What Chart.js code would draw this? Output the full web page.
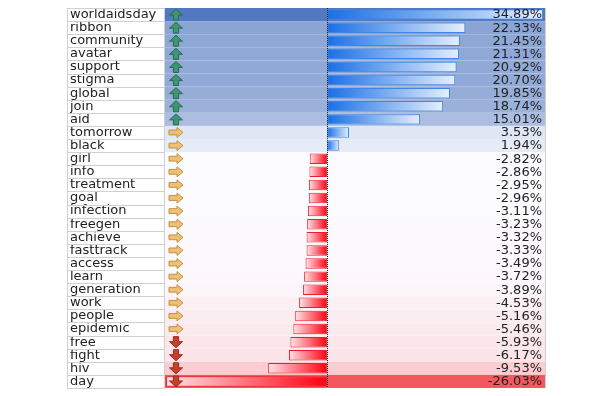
<!DOCTYPE html>
<html>
<head>
<meta charset="utf-8">
<script src="https://cdn.jsdelivr.net/npm/chart.js@4/dist/chart.umd.min.js"></script>
<style>
  html, body { margin: 0; padding: 0; background: #fff; }
  canvas { display: block; }
</style>
</head>
<body>
<canvas id="hashtagChart" width="613" height="396"></canvas>
<script>
// hashtag words and their change in share
const words = ["worldaidsday", "ribbon", "community", "avatar", "support", "stigma", "global", "join", "aid",
    "tomorrow", "black", "girl", "info", "treatment", "goal", "infection", "freegen", "achieve", "fasttrack",
    "access", "learn", "generation", "work", "people", "epidemic", "free", "fight", "hiv", "day"];
const changes = [34.89, 22.33, 21.45, 21.31, 20.92, 20.70, 19.85, 18.74, 15.01,
    3.53, 1.94, -2.82, -2.86, -2.95, -2.96, -3.11, -3.23, -3.32, -3.33,
    -3.49, -3.72, -3.89, -4.53, -5.16, -5.46, -5.93, -6.17, -9.53, -26.03];
const axisMin = -26.2;
const axisMax = 35.2;

const FONT = "13px 'DejaVu Sans'";
const LABEL_COL = 98; // width of the word column

// 3 colour scale (red - white - blue), midpoint at the median like Excel
const sorted = [...changes].sort((a, b) => a - b);
const vMin = sorted[0], vMax = sorted[sorted.length - 1], vMid = sorted[Math.floor(sorted.length / 2)];
const cRed = [244, 88, 95], cWhite = [252, 252, 255], cBlue = [82, 121, 191];

function mix(a, b, t) {
    return "rgb(" + a.map((c, i) => Math.round(c + (b[i] - c) * t)).join(",") + ")";
}
function rowColor(v) {
    if (v >= vMid) return mix(cWhite, cBlue, (v - vMid) / (vMax - vMid));
    return mix(cWhite, cRed, (vMid - v) / (vMid - vMin));
}
// icon set: thirds of the value range
function iconFor(v) {
    const t = (v - vMin) / (vMax - vMin);
    if (t >= 2 / 3) return "up";
    if (t >= 1 / 3) return "right";
    return "down";
}

function rowHeight(chart) {
    const a = chart.chartArea;
    return (a.bottom - a.top) / words.length;
}

function drawArrow(ctx, type, cx, cy) {
    let pts, fill, stroke;
    if (type === "up") {
        pts = [[0, -5.5], [6.5, 0.5], [2.6, 0.5], [2.6, 5.5], [-2.6, 5.5], [-2.6, 0.5], [-6.5, 0.5]];
        fill = "#3f9472"; stroke = "#2a6b52";
    } else if (type === "down") {
        pts = [[0, 5.5], [6.5, -0.5], [2.6, -0.5], [2.6, -5.5], [-2.6, -5.5], [-2.6, -0.5], [-6.5, -0.5]];
        fill = "#c8402c"; stroke = "#962a1c";
    } else {
        pts = [[7, 0], [1, -5], [1, -2.4], [-7, -2.4], [-7, 2.4], [1, 2.4], [1, 5]];
        fill = "#ecc078"; stroke = "#c4923c";
    }
    ctx.beginPath();
    pts.forEach((p, i) => i ? ctx.lineTo(cx + p[0], cy + p[1]) : ctx.moveTo(cx + p[0], cy + p[1]));
    ctx.closePath();
    ctx.fillStyle = fill;
    ctx.fill();
    ctx.lineWidth = 1;
    ctx.strokeStyle = stroke;
    ctx.stroke();
}

// row shading, table lines, zero line, icons and value text
const tablePlugin = {
    id: "tablePlugin",
    beforeDatasetsDraw(chart) {
        const ctx = chart.ctx, a = chart.chartArea, y = chart.scales.y;
        const h = rowHeight(chart);
        ctx.save();
        changes.forEach((v, i) => {
            const yc = y.getPixelForValue(i);
            ctx.fillStyle = rowColor(v);
            ctx.fillRect(a.left, yc - h / 2, a.right - a.left, h);
        });
        // word column grid
        const colLeft = a.left - LABEL_COL;
        ctx.strokeStyle = "#d0d0d0";
        ctx.lineWidth = 1;
        ctx.beginPath();
        for (let i = 0; i <= words.length; i++) {
            const yy = Math.round(a.top + i * h) + 0.5;
            ctx.moveTo(colLeft, yy);
            ctx.lineTo(a.left, yy);
        }
        ctx.moveTo(colLeft + 0.5, a.top);
        ctx.lineTo(colLeft + 0.5, a.bottom);
        ctx.moveTo(a.left - 0.5, a.top);
        ctx.lineTo(a.left - 0.5, a.bottom);
        ctx.moveTo(a.right + 0.5, a.top);
        ctx.lineTo(a.right + 0.5, a.bottom);
        ctx.stroke();
        ctx.restore();
    },
    afterDatasetsDraw(chart) {
        const ctx = chart.ctx, a = chart.chartArea, x = chart.scales.x, y = chart.scales.y;
        ctx.save();
        // dotted axis at zero
        const x0 = Math.round(x.getPixelForValue(0)) + 0.5;
        ctx.strokeStyle = "#222";
        ctx.setLineDash([1, 1]);
        ctx.beginPath();
        ctx.moveTo(x0, a.top);
        ctx.lineTo(x0, a.bottom);
        ctx.stroke();
        ctx.setLineDash([]);

        ctx.font = FONT;
        ctx.textAlign = "right";
        ctx.textBaseline = "middle";
        changes.forEach((v, i) => {
            const yc = y.getPixelForValue(i);
            drawArrow(ctx, iconFor(v), a.left + 11, yc);
            ctx.fillStyle = "#222";
            ctx.fillText(v.toFixed(2) + "%", a.right - 3, yc + 0.5);
        });
        ctx.restore();
    }
};

function barGradient(context) {
    const chart = context.chart;
    const x = chart.scales.x;
    if (!x || !chart.chartArea) return "#1e74e8";
    const v = context.raw;
    const x0 = x.getPixelForValue(0);
    const x1 = x.getPixelForValue(v);
    const g = chart.ctx.createLinearGradient(x0, 0, x1, 0);
    if (v >= 0) {
        g.addColorStop(0, "#1a6fe6");
        g.addColorStop(1, "#e4effd");
    } else {
        g.addColorStop(0, "#ff0010");
        g.addColorStop(1, "#fde4e8");
    }
    return g;
}

new Chart(document.getElementById("hashtagChart"), {
    type: "bar",
    data: {
        labels: words,
        datasets: [{
            data: changes,
            backgroundColor: barGradient,
            borderColor: context => context.raw >= 0 ? "#3d87ea" : "#f01c2c",
            borderWidth: 1,
            borderSkipped: false,
            barPercentage: 0.8,
            categoryPercentage: 1
        }]
    },
    options: {
        indexAxis: "y",
        responsive: false,
        animation: false,
        layout: { padding: { top: 8, bottom: 8, left: 70, right: 68 } },
        plugins: {
            legend: { display: false },
            tooltip: { enabled: false }
        },
        scales: {
            x: {
                display: false,
                min: axisMin,
                max: axisMax
            },
            y: {
                grid: { display: false },
                border: { display: false },
                afterFit: scale => { scale.width = LABEL_COL - 3; },
                ticks: {
                    autoSkip: false,
                    crossAlign: "far",
                    padding: 0,
                    color: "#222",
                    font: { family: "DejaVu Sans", size: 13 }
                }
            }
        }
    },
    plugins: [tablePlugin]
});
</script>
</body>
</html>
